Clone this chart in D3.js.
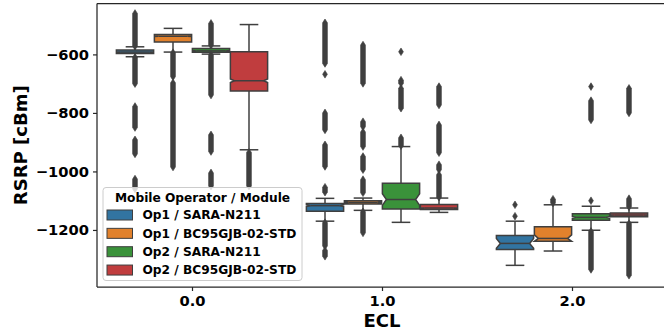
<!DOCTYPE html>
<html><head><meta charset="utf-8">
<script src="https://cdn.jsdelivr.net/npm/d3@7"></script>
<style>
body{margin:0;background:#fff}
svg{display:block}
text{font-family:"DejaVu Sans",sans-serif;font-weight:bold;fill:#000}
</style>
</head><body>
<svg id="c" width="664" height="331"></svg>
<script>
// ---------------- data ----------------
const categories = ["0.0", "1.0", "2.0"];
const seriesNames = ["Op1 / SARA-N211", "Op1 / BC95GJB-02-STD", "Op2 / SARA-N211", "Op2 / BC95GJB-02-STD"];
const seriesColors = ["#3274a1", "#e1812c", "#3a923a", "#c03d3e"];
const yTicks = [-600, -800, -1000, -1200];
const legendTitle = "Mobile Operator / Module";

// box statistics, [series][category]
const whiskerLow  = [[-608, -1170, -1321], [-592, -1133, -1272], [-599, -1174, -1201], [-926, -1140, -1174]];
const q1          = [[-597, -1136, -1267], [-558, -1111, -1239], [-593, -1128, -1167], [-725, -1130, -1155]];
const median      = [[-592, -1117, -1246], [-538, -1106, -1229], [-588, -1096, -1157], [-690, -1125, -1149]];
const q3          = [[-585, -1110, -1219], [-532, -1100, -1189], [-580, -1040, -1145], [-591, -1113, -1142]];
const whiskerHigh = [[-574, -1092, -1170], [-511, -1091, -1114], [-571, -915, -1119], [-498, -1091, -1125]];
const notchHalf   = [[1, 3, 17], [1, 2, 12], [1, 20, 3], [6, 1, 1]];

// outlier runs [low, high] (dense columns of fliers), per category
const op1SaraOutliers = [
  [[-572, -460], [-700, -610], [-850, -778], [-940, -892], [-1060, -1026]],
  [[-631, -492], [-668, -668], [-858, -800], [-983, -909], [-1071, -1054], [-1255, -1175], [-1290, -1270]],
  [[-1114, -1114], [-1153, -1153]]
];
const op1BcOutliers = [
  [[-676, -594], [-985, -697]],
  [[-699, -568], [-847, -830], [-915, -865], [-994, -949], [-1073, -1028], [-1210, -1138]],
  [[-1108, -1095]]
];
const op2SaraOutliers = [
  [[-569, -494], [-739, -601], [-932, -875], [-1050, -1005]],
  [[-591, -591], [-699, -688], [-784, -716], [-912, -885]],
  [[-710, -710], [-824, -758], [-1100, -1100], [-1335, -1205]]
];
const op2BcOutliers = [
  [[-1050, -935]],
  [[-773, -710], [-936, -841], [-994, -977], [-1088, -1011]],
  [[-800, -716], [-1121, -1093], [-1355, -1178]]
];
const outliers = [op1SaraOutliers, op1BcOutliers, op2SaraOutliers, op2BcOutliers];

// ---------------- layout ----------------
const svg = d3.select("#c");
const L = 97, R = 667, T = 3.5, B = 287;
const lineCol = "#3f3f3f";

const x = d3.scaleBand().domain(categories).range([L, R]);
const hue = d3.scaleBand().domain(seriesNames).range([x.bandwidth() * 0.1, x.bandwidth() * 0.9]);
const y = d3.scaleLinear().domain([-1395, -426]).range([B, T]);

const plot = svg.append("g");
const boxW = hue.bandwidth() * 0.98;
const ind = 4;

seriesNames.forEach((s, si) => {
  categories.forEach((c, ci) => {
    const cx = x(c) + hue(s) + hue.bandwidth() / 2;
    const l = cx - boxW / 2, r = cx + boxW / 2;
    const g = plot.append("g");
    // whiskers
    g.append("line").attr("x1", cx).attr("x2", cx).attr("y1", y(q3[si][ci])).attr("y2", y(whiskerHigh[si][ci]))
      .attr("stroke", lineCol).attr("stroke-width", 1.5);
    g.append("line").attr("x1", cx).attr("x2", cx).attr("y1", y(q1[si][ci])).attr("y2", y(whiskerLow[si][ci]))
      .attr("stroke", lineCol).attr("stroke-width", 1.5);
    // caps
    [whiskerHigh[si][ci], whiskerLow[si][ci]].forEach(v => {
      g.append("line").attr("x1", cx - boxW / 4).attr("x2", cx + boxW / 4).attr("y1", y(v)).attr("y2", y(v))
        .attr("stroke", lineCol).attr("stroke-width", 1.5);
    });
    // notched box
    const yq1 = y(q1[si][ci]), yq3 = y(q3[si][ci]), ym = y(median[si][ci]);
    const n = notchHalf[si][ci];
    const yhi = y(Math.min(median[si][ci] + n, q3[si][ci]));
    const ylo = y(Math.max(median[si][ci] - n, q1[si][ci]));
    const p = d3.path();
    p.moveTo(l, yq3); p.lineTo(r, yq3); p.lineTo(r, yhi); p.lineTo(r - ind, ym); p.lineTo(r, ylo);
    p.lineTo(r, yq1); p.lineTo(l, yq1); p.lineTo(l, ylo); p.lineTo(l + ind, ym); p.lineTo(l, yhi); p.closePath();
    g.append("path").attr("d", p.toString()).attr("fill", seriesColors[si])
      .attr("stroke", lineCol).attr("stroke-width", 1.5).attr("stroke-linejoin", "miter");
    // median
    g.append("line").attr("x1", l + ind).attr("x2", r - ind).attr("y1", ym).attr("y2", ym)
      .attr("stroke", lineCol).attr("stroke-width", 1.5);
    // fliers as columns of thin diamonds
    const hw = 2.4, hh = 3.8;
    outliers[si][ci].forEach(([lo, hi]) => {
      const a = y(hi), b = y(lo);
      const fp = d3.path();
      fp.moveTo(cx, a - hh); fp.lineTo(cx + hw, a); fp.lineTo(cx + hw, b); fp.lineTo(cx, b + hh);
      fp.lineTo(cx - hw, b); fp.lineTo(cx - hw, a); fp.closePath();
      g.append("path").attr("d", fp.toString()).attr("fill", lineCol).attr("stroke", lineCol).attr("stroke-width", 0.6);
    });
  });
});

// axes
const yAxis = svg.append("g").attr("transform", `translate(${L},0)`)
  .call(d3.axisLeft(y).tickValues(yTicks).tickFormat(d3.format("d")).tickSize(4).tickPadding(4));
yAxis.select(".domain").remove();
yAxis.selectAll("line").attr("stroke", "#262626").attr("stroke-width", 1.2);
yAxis.selectAll("text").style("font-size", "14.7px").style("font-family", "DejaVu Sans").style("font-weight", "bold").attr("fill", "#000");

const xAxis = svg.append("g").attr("transform", `translate(0,${B})`)
  .call(d3.axisBottom(d3.scalePoint().domain(categories).range([x(categories[0]) + x.bandwidth() / 2, x(categories[2]) + x.bandwidth() / 2])).tickSize(4).tickPadding(5));
xAxis.select(".domain").remove();
xAxis.selectAll("line").attr("stroke", "#262626").attr("stroke-width", 1.2);
xAxis.selectAll("text").style("font-size", "14.7px").style("font-family", "DejaVu Sans").style("font-weight", "bold").attr("fill", "#000");

// spines
svg.append("line").attr("x1", L).attr("x2", L).attr("y1", T).attr("y2", B).attr("stroke", "#262626").attr("stroke-width", 1.25);
svg.append("line").attr("x1", L).attr("x2", R).attr("y1", T).attr("y2", T).attr("stroke", "#262626").attr("stroke-width", 1.25);
svg.append("line").attr("x1", L).attr("x2", R).attr("y1", B).attr("y2", B).attr("stroke", "#262626").attr("stroke-width", 1.25);

// axis labels
svg.append("text").attr("x", (L + R) / 2).attr("y", 327).attr("text-anchor", "middle").style("font-size", "18px").text("ECL");
svg.append("text").attr("transform", `translate(27,${(T + B) / 2}) rotate(-90)`).attr("text-anchor", "middle")
  .style("font-size", "18px").text("RSRP [cBm]");

// legend
const lg = svg.append("g");
lg.append("rect").attr("x", 103).attr("y", 187.5).attr("width", 199).attr("height", 93).attr("rx", 3)
  .attr("fill", "#fff").attr("fill-opacity", 0.8).attr("stroke", "#cccccc").attr("stroke-width", 1);
lg.append("text").attr("x", 202.5).attr("y", 202).attr("text-anchor", "middle").style("font-size", "12.2px").text(legendTitle);
seriesNames.forEach((s, i) => {
  const cy = 215 + i * 18.35;
  lg.append("rect").attr("x", 107).attr("y", cy - 5).attr("width", 25.5).attr("height", 10)
    .attr("fill", seriesColors[i]).attr("stroke", lineCol).attr("stroke-width", 1);
  lg.append("text").attr("x", 142.5).attr("y", cy + 4.4).style("font-size", "12.2px").text(s);
});
</script>
</body></html>
